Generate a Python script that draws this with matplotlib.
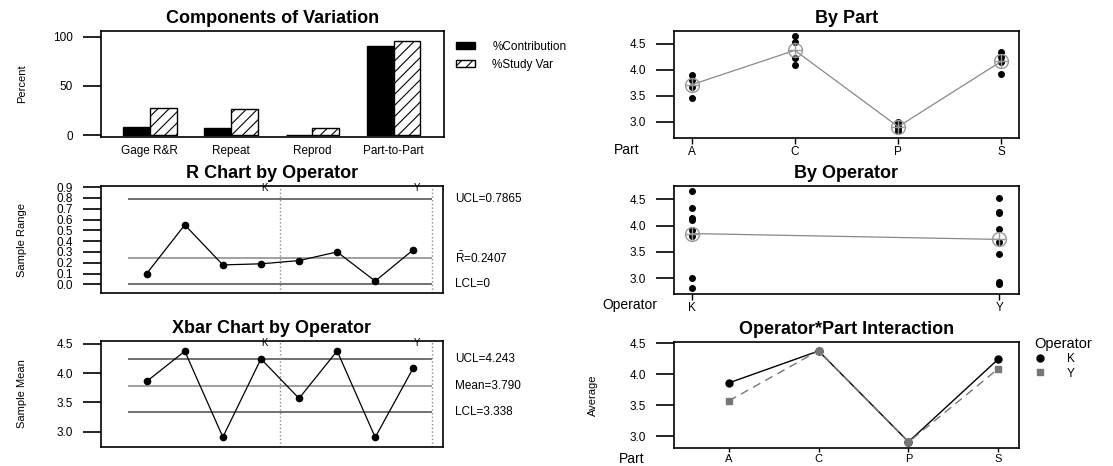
import numpy as np
import matplotlib
matplotlib.use('Agg')
import matplotlib.pyplot as plt
from matplotlib import transforms
from matplotlib.lines import Line2D

plt.rcParams['font.family'] = ['Liberation Sans', 'DejaVu Sans']
plt.rcParams['mathtext.fontset'] = 'custom'
plt.rcParams['mathtext.rm'] = 'Liberation Sans'
plt.rcParams['hatch.linewidth'] = 0.8

# Components of variation (percent)
components = ['Gage R&R', 'Repeat', 'Reprod', 'Part-to-Part']
pct_contribution = [7.7, 7.2, 0.5, 91.0]
pct_study_var = [27.8, 26.8, 6.8, 95.4]

# measurements: 2 trials per operator and part
parts = ['A', 'C', 'P', 'S']
operators = ['K', 'Y']
k_trial1 = [3.81, 4.10, 2.82, 4.15]
k_trial2 = [3.91, 4.65, 3.00, 4.34]
y_trial1 = [3.46, 4.23, 2.89, 3.93]
y_trial2 = [3.68, 4.53, 2.92, 4.25]

# control limits as printed on the charts
r_ucl, r_bar, r_lcl = 0.7865, 0.2407, 0.0
x_ucl, x_mean, x_lcl = 4.243, 3.790, 3.338

k = np.array([k_trial1, k_trial2])
y = np.array([y_trial1, y_trial2])
k_mean = k.mean(axis=0)
y_mean = y.mean(axis=0)
xbar = np.concatenate([k_mean, y_mean])
ranges = np.concatenate([np.ptp(k, axis=0), np.ptp(y, axis=0)])
part_data = np.vstack([k, y])          # 4 rows x 4 parts
part_mean = part_data.mean(axis=0)
op_mean = [k.mean(), y.mean()]

W, H = 1113, 466
fig = plt.figure(figsize=(W / 100, H / 100), dpi=100)


def box(l, t, r, b):
    return fig.add_axes([l / W, 1 - b / H, (r - l) / W, (b - t) / H])


def style(ax, ylabel=None, ylab_x=None):
    for s in ax.spines.values():
        s.set_linewidth(1.2)
    ax.tick_params(axis='y', direction='out', length=13, width=1.2, pad=7, labelsize=8.5)
    if ylabel:
        ax.set_ylabel(ylabel, fontsize=8)
        ax.yaxis.set_label_coords(ylab_x / W, 0.5,
                                  transform=transforms.blended_transform_factory(fig.transFigure, ax.transAxes))


TFS = 13  # title size

# ---- Components of Variation
ax = box(101, 31, 444, 137)
xc = np.arange(len(components))
ax.bar(xc - 0.165, pct_contribution, 0.33, color='black', edgecolor='black', label='%Contribution')
ax.bar(xc + 0.165, pct_study_var, 0.33, color='white', edgecolor='black', hatch='///', lw=1, label='%Study Var')
ax.set_xlim(-0.6, 3.62)
ax.set_ylim(-2, 106)
ax.set_yticks([0, 50, 100])
ax.set_xticks(xc, components)
ax.tick_params(axis='x', length=0, pad=6, labelsize=8.5)
style(ax, 'Percent', 27)
ax.set_title('Components of Variation', fontweight='bold', fontsize=TFS, pad=6)
ax.legend(loc='upper left', bbox_to_anchor=(450 / W, 1 - 35 / H), bbox_transform=fig.transFigure,
          frameon=False, fontsize=8.5, handlelength=1.6, handleheight=0.5, handletextpad=1.5,
          labelspacing=0.5, borderpad=0)

# ---- R chart
xs = np.arange(1, 9)
ax = box(101, 186, 443, 293)
ax.hlines([r_ucl, r_lcl], 0.5, 8.5, colors='#666666', lw=1.3)
ax.hlines(r_bar, 0.5, 8.5, colors='#999999', lw=1.3)
for v in (4.5, 8.5):
    ax.axvline(v, color='#888888', ls=':', lw=1)
ax.plot(xs, ranges, color='black', lw=0.9, marker='o', ms=4.5)
ax.set_xlim(-0.2, 8.78)
ax.set_ylim(-0.08, 0.91)
ax.set_yticks(np.round(np.arange(0, 0.91, 0.1), 1))
ax.set_xticks([])
style(ax, 'Sample Range', 27)
ax.set_title('R Chart by Operator', fontweight='bold', fontsize=TFS, pad=6)
tr = transforms.blended_transform_factory(ax.transData, ax.transAxes)
ax.text(4.1, 1.03, 'K', transform=tr, ha='center', va='top', fontsize=7)
ax.text(8.1, 1.03, 'Y', transform=tr, ha='center', va='top', fontsize=7)
tr = transforms.blended_transform_factory(ax.transAxes, ax.transData)
ax.text(1.035, r_ucl, 'UCL=%.4f' % r_ucl, transform=tr, va='center', fontsize=8.5)
ax.text(1.035, r_bar, r'$\mathrm{\bar{R}}$=%.4f' % r_bar, transform=tr, va='center', fontsize=8.5)
ax.text(1.035, r_lcl, 'LCL=0', transform=tr, va='center', fontsize=8.5)

# ---- Xbar chart
ax = box(101, 341, 443, 447)
ax.hlines([x_ucl, x_lcl], 0.5, 8.5, colors='#666666', lw=1.3)
ax.hlines(x_mean, 0.5, 8.5, colors='#999999', lw=1.3)
for v in (4.5, 8.5):
    ax.axvline(v, color='#888888', ls=':', lw=1)
ax.plot(xs, xbar, color='black', lw=0.9, marker='o', ms=4.5)
ax.set_xlim(-0.2, 8.78)
ax.set_ylim(2.74, 4.55)
ax.set_yticks([3.0, 3.5, 4.0, 4.5])
ax.set_xticks([])
style(ax, 'Sample Mean', 27)
ax.set_title('Xbar Chart by Operator', fontweight='bold', fontsize=TFS, pad=6)
tr = transforms.blended_transform_factory(ax.transData, ax.transAxes)
ax.text(4.1, 1.03, 'K', transform=tr, ha='center', va='top', fontsize=7)
ax.text(8.1, 1.03, 'Y', transform=tr, ha='center', va='top', fontsize=7)
tr = transforms.blended_transform_factory(ax.transAxes, ax.transData)
ax.text(1.035, x_ucl, 'UCL=%.3f' % x_ucl, transform=tr, va='center', fontsize=8.5)
ax.text(1.035, x_mean, 'Mean=%.3f' % x_mean, transform=tr, va='center', fontsize=8.5)
ax.text(1.035, x_lcl, 'LCL=%.3f' % x_lcl, transform=tr, va='center', fontsize=8.5)

# ---- By Part
xp = np.arange(1, 5)
ax = box(674, 31, 1019, 138)
for row in part_data:
    ax.plot(xp, row, 'o', color='black', ms=4)
ax.plot(xp, part_mean, color='#888888', lw=0.9)
ax.plot(xp, part_mean, 'o', mfc='none', mec='#999999', ms=10, mew=1)
ax.plot(xp, part_mean, '+', color='#999999', ms=10, mew=1)
ax.set_xlim(0.83, 4.17)
ax.set_ylim(2.69, 4.75)
ax.set_yticks([3.0, 3.5, 4.0, 4.5])
ax.set_xticks(xp, parts)
ax.tick_params(axis='x', length=4, width=1, pad=2, labelsize=8.5)
style(ax)
ax.set_title('By Part', fontweight='bold', fontsize=TFS, pad=6)
fig.text(627 / W, 1 - 150 / H, 'Part', ha='center', va='center', fontsize=10)

# ---- By Operator
ax = box(674, 186, 1019, 294)
for i, vals in enumerate([k.ravel(), y.ravel()]):
    ax.plot(np.full(vals.size, i + 1), vals, 'o', color='black', ms=4)
ax.plot([1, 2], op_mean, color='#888888', lw=0.9)
ax.plot([1, 2], op_mean, 'o', mfc='none', mec='#999999', ms=10, mew=1)
ax.plot([1, 2], op_mean, '+', color='#999999', ms=10, mew=1)
ax.set_xlim(0.943, 2.064)
ax.set_ylim(2.70, 4.75)
ax.set_yticks([3.0, 3.5, 4.0, 4.5])
ax.set_xticks([1, 2], operators)
ax.tick_params(axis='x', length=4, width=1, pad=2, labelsize=8.5)
style(ax)
ax.set_title('By Operator', fontweight='bold', fontsize=TFS, pad=6)
fig.text(630 / W, 1 - 305 / H, 'Operator', ha='center', va='center', fontsize=10)

# ---- Operator*Part interaction
ax = box(674, 342, 1019, 448)
ax.plot(xp, k_mean, color='black', lw=1, marker='o', ms=5)
ax.plot(xp, y_mean, color='#777777', lw=1, ls=(0, (6, 4)), marker='s', ms=4)
ax.set_xlim(0.39, 4.23)
ax.set_ylim(2.81, 4.52)
ax.set_yticks([3.0, 3.5, 4.0, 4.5])
ax.set_xticks(xp, parts)
ax.tick_params(axis='x', length=3, width=1, pad=1, labelsize=8)
style(ax, 'Average', 598)
ax.set_title('Operator*Part Interaction', fontweight='bold', fontsize=TFS, pad=6)
fig.text(632 / W, 1 - 459 / H, 'Part', ha='center', va='center', fontsize=10)
handles = [Line2D([], [], ls='none', marker='o', color='black', ms=5),
           Line2D([], [], ls='none', marker='s', color='#777777', ms=4)]
fig.legend(handles, operators, title='Operator', loc='upper left',
           bbox_to_anchor=(1028 / W, 1 - 331 / H), frameon=False, fontsize=8.5,
           title_fontsize=10.5, handlelength=1.0, handletextpad=1.8, labelspacing=0.2,
           borderpad=0, alignment='left')

fig.savefig('out.png', dpi=100)
